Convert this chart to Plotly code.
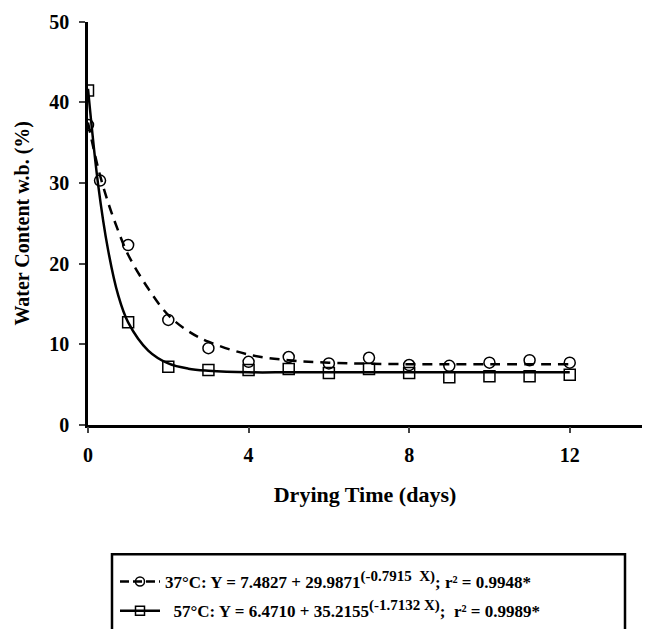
import plotly.graph_objects as go

days_37 = [0, 0.3, 1, 2, 3, 4, 5, 6, 7, 8, 9, 10, 11, 12]
wc_37 = [37.2, 30.3, 22.3, 13.0, 9.5, 7.8, 8.4, 7.6, 8.3, 7.4, 7.3, 7.7, 8.0, 7.7]
days_57 = [0, 1, 2, 3, 4, 5, 6, 7, 8, 9, 10, 11, 12]
wc_57 = [41.5, 12.7, 7.2, 6.8, 6.8, 6.9, 6.4, 6.9, 6.4, 5.9, 6.0, 6.0, 6.2]

# Fitted curves (at sample points)
fit_x = [0, 0.25, 0.5, 0.75, 1, 1.5, 2, 2.5, 3, 4, 5, 6, 8, 10, 12]
fit_37 = [37.5, 31.9, 27.6, 24.1, 21.1, 16.9, 13.6, 11.6, 10.3, 8.7, 8.0, 7.7, 7.5, 7.5, 7.5]
fit_57 = [41.7, 29.9, 21.7, 16.1, 12.7, 9.2, 7.6, 6.95, 6.7, 6.5, 6.5, 6.5, 6.5, 6.5, 6.5]

x_ticks = [0, 4, 8, 12]
y_ticks = [0, 10, 20, 30, 40, 50]

SUP = "<sup><span style='font-size:15px'>{}</span></sup>"
label_37 = "37°C: Y = 7.4827 + 29.9871" + SUP.format("(-0.7915  X)") + "; r² = 0.9948*"
label_57 = "\u00a0\u00a057°C: Y = 6.4710 + 35.2155" + SUP.format("(-1.7132 X)") + ";  r² = 0.9989*"

FONT = "Liberation Serif"
W, H = 650, 629
fig = go.Figure()

fig.add_trace(go.Scatter(x=fit_x, y=fit_37, mode="lines", line=dict(color="black", width=2.5, dash="10px,7px", shape="spline"), showlegend=False))
fig.add_trace(go.Scatter(x=fit_x, y=fit_57, mode="lines", line=dict(color="black", width=2.5, shape="spline"), showlegend=False))
fig.add_trace(go.Scatter(x=days_37, y=wc_37, mode="markers", marker=dict(symbol="circle-open", size=11, color="black", line=dict(width=1.5)), showlegend=False))
fig.add_trace(go.Scatter(x=days_57, y=wc_57, mode="markers", marker=dict(symbol="square-open", size=11, color="black", line=dict(width=1.5)), showlegend=False))

# legend entries
fig.add_trace(go.Scatter(x=[None], y=[None], mode="lines+markers", name=label_37, legendgroup="a",
                         line=dict(color="black", width=2.5, dash="9px,4px"),
                         marker=dict(symbol="circle-open", size=9, color="black", line=dict(width=1.5))))
fig.add_trace(go.Scatter(x=[None], y=[None], mode="lines+markers", name=label_57, legendgroup="b",
                         line=dict(color="black", width=2.5),
                         marker=dict(symbol="square-open", size=9, color="black", line=dict(width=1.5))))

# legend frame (bottom edge falls outside the picture, as in the original)
fig.add_shape(type="rect", xref="paper", yref="paper", x0=112 / W, x1=625 / W, y0=-0.05, y1=(H - 556) / H,
              line=dict(color="black", width=2.5), fillcolor="rgba(0,0,0,0)", layer="above")

fig.update_layout(
    width=W, height=H,
    margin=dict(l=0, r=0, t=0, b=0),
    paper_bgcolor="white", plot_bgcolor="white",
    font=dict(family=FONT, size=20, color="black", weight="bold"),
    showlegend=True,
    legend=dict(x=115 / W, xanchor="left", y=(H - 566) / H, yanchor="top",
                borderwidth=0, bgcolor="rgba(0,0,0,0)",
                font=dict(family=FONT, size=17, color="black", weight="bold"),
                tracegroupgap=4, itemwidth=40),
    xaxis=dict(domain=[88 / W, 642 / W], range=[0, 13.8], tickvals=x_ticks, ticks="outside", ticklen=6, tickwidth=2,
               showline=True, linecolor="black", linewidth=2.5, showgrid=False, zeroline=False,
               ticklabelstandoff=5, automargin=False,
               title=dict(text="Drying Time (days)", standoff=22,
                          font=dict(family=FONT, size=22, color="black", weight="bold")),
               tickfont=dict(family=FONT, size=20, color="black", weight="bold")),
    yaxis=dict(domain=[(H - 426) / H, (H - 22) / H], range=[0, 50], tickvals=y_ticks, ticks="outside", ticklen=6, tickwidth=2,
               showline=True, linecolor="black", linewidth=2.5, showgrid=False, zeroline=False,
               ticklabelstandoff=6, automargin=False,
               title=dict(text="Water Content w.b. (%)", standoff=15,
                          font=dict(family=FONT, size=20, color="black", weight="bold")),
               tickfont=dict(family=FONT, size=20, color="black", weight="bold")),
)

fig.write_html("out.html")
